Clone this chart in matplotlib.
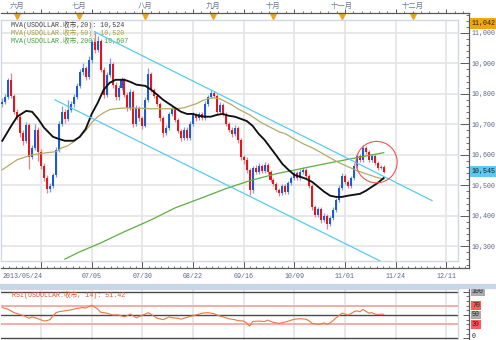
import numpy as np
import matplotlib
matplotlib.use("Agg")
import matplotlib.pyplot as plt
import matplotlib.transforms as mtransforms
from matplotlib.patches import Ellipse, Rectangle
from matplotlib.ticker import FixedLocator, MultipleLocator, FuncFormatter, NullFormatter

plt.rcParams['font.family'] = ['Liberation Mono', 'Noto Sans CJK SC']

# ---------------- data: USDOLLAR daily candles, 2013/05/24 onward ----------------
first_open = 10765
closes = [10774, 10790, 10846, 10793, 10741, 10725, 10672, 10646, 10698, 10593,
          10623, 10682, 10610, 10564, 10525, 10489, 10498, 10534, 10616, 10702,
          10741, 10718, 10748, 10767, 10790, 10826, 10872, 10885, 10856, 10911,
          10970, 10944, 10974, 10879, 10797, 10862, 10898, 10830, 10790, 10820,
          10846, 10797, 10754, 10807, 10702, 10754, 10721, 10695, 10780, 10866,
          10813, 10793, 10767, 10721, 10672, 10689, 10734, 10751, 10715, 10679,
          10656, 10682, 10656, 10702, 10731, 10721, 10734, 10721, 10767, 10790,
          10803, 10793, 10741, 10764, 10734, 10702, 10682, 10669, 10689, 10649,
          10593, 10584, 10551, 10485, 10557, 10544, 10564, 10548, 10567, 10544,
          10518, 10505, 10485, 10475, 10498, 10479, 10508, 10525, 10541, 10525,
          10544, 10551, 10531, 10498, 10430, 10403, 10423, 10387, 10400, 10374,
          10393, 10420, 10452, 10492, 10531, 10511, 10498, 10525, 10564, 10597,
          10584, 10623, 10610, 10584, 10597, 10574, 10557, 10561, 10545]
highs = [10785, 10798, 10852, 10869, 10800, 10750, 10731, 10680, 10708, 10705,
         10632, 10702, 10690, 10618, 10572, 10533, 10506, 10541, 10625, 10712,
         10760, 10750, 10780, 10775, 10798, 10835, 10880, 10900, 10892, 10925,
         10978, 11006, 10988, 10980, 10888, 10870, 10918, 10905, 10838, 10828,
         10856, 10852, 10805, 10815, 10812, 10762, 10760, 10728, 10790, 10885,
         10872, 10820, 10800, 10773, 10728, 10697, 10741, 10760, 10758, 10722,
         10686, 10690, 10690, 10710, 10740, 10738, 10742, 10740, 10775, 10797,
         10812, 10810, 10800, 10772, 10770, 10740, 10708, 10690, 10697, 10695,
         10655, 10600, 10592, 10558, 10563, 10565, 10572, 10570, 10575, 10572,
         10550, 10525, 10512, 10492, 10505, 10505, 10515, 10532, 10548, 10548,
         10552, 10560, 10557, 10538, 10505, 10437, 10430, 10430, 10408, 10406,
         10400, 10428, 10460, 10500, 10540, 10538, 10518, 10532, 10572, 10605,
         10604, 10633, 10628, 10616, 10604, 10602, 10580, 10567, 10566]
lows = [10758, 10768, 10784, 10786, 10733, 10715, 10660, 10633, 10640, 10552,
        10585, 10615, 10580, 10555, 10515, 10476, 10478, 10490, 10528, 10608,
        10695, 10705, 10712, 10740, 10758, 10782, 10820, 10862, 10845, 10850,
        10902, 10935, 10938, 10870, 10785, 10790, 10855, 10820, 10780, 10781,
        10812, 10790, 10745, 10748, 10690, 10695, 10712, 10685, 10690, 10772,
        10805, 10785, 10760, 10712, 10660, 10665, 10682, 10727, 10708, 10672,
        10645, 10650, 10648, 10650, 10695, 10712, 10715, 10713, 10715, 10760,
        10785, 10786, 10733, 10735, 10727, 10695, 10675, 10660, 10662, 10640,
        10583, 10570, 10540, 10468, 10475, 10536, 10538, 10540, 10542, 10537,
        10510, 10497, 10478, 10466, 10468, 10470, 10472, 10500, 10518, 10518,
        10519, 10538, 10524, 10490, 10420, 10395, 10396, 10378, 10380, 10357,
        10366, 10386, 10413, 10445, 10485, 10503, 10490, 10492, 10518, 10557,
        10576, 10578, 10602, 10576, 10578, 10567, 10550, 10552, 10540]

# moving averages (bar index, value)
ma20_idx = [0, 3, 5, 8, 10, 12, 14, 17, 19, 21, 24, 26, 28, 30, 32, 34, 36, 38, 41, 43,
            45, 48, 50, 52, 54, 56, 58, 60, 62, 64, 66, 68, 70, 72, 74, 76, 78, 80, 82, 84,
            86, 88, 90, 92, 94, 96, 98, 100, 102, 104, 106, 108, 110, 112, 114, 116, 118, 120,
            122, 124, 126, 128]
ma20_val = [10646, 10695, 10725, 10744, 10741, 10718, 10689, 10659, 10652, 10646,
            10646, 10659, 10685, 10734, 10770, 10813, 10836, 10846, 10846, 10839,
            10830, 10826, 10813, 10797, 10780, 10767, 10754, 10741, 10734, 10734,
            10728, 10725, 10725, 10731, 10734, 10728, 10725, 10718, 10711, 10695,
            10669, 10649, 10623, 10597, 10570, 10551, 10534, 10528, 10521, 10511,
            10495, 10479, 10466, 10462, 10462, 10466, 10469, 10472, 10482, 10495,
            10508, 10524]
ma50_idx = [0, 5, 10, 15, 18, 20, 22, 24, 26, 28, 30, 32, 34, 36, 38, 42, 50, 58, 61, 63,
            65, 67, 69, 71, 73, 75, 77, 79, 81, 83, 85, 87, 89, 91, 93, 95, 98, 101, 104, 107,
            110, 113, 116, 119, 122, 125, 128]
ma50_val = [10551, 10584, 10600, 10607, 10610, 10623, 10630, 10643, 10659, 10679,
            10705, 10725, 10738, 10748, 10751, 10754, 10751, 10751, 10754, 10761,
            10767, 10777, 10784, 10787, 10784, 10774, 10764, 10751, 10741, 10731,
            10718, 10705, 10695, 10685, 10675, 10669, 10652, 10636, 10623, 10607,
            10590, 10574, 10561, 10548, 10538, 10528, 10520]
ma200_idx = [21, 26, 33, 41, 50, 58, 67, 75, 83, 92, 100, 108, 117, 128]
ma200_val = [10258, 10282, 10311, 10348, 10387, 10426, 10459, 10489, 10515, 10538,
             10554, 10570, 10587, 10607]
ma_last = {20: '10,524', 50: '10,520', 200: '10,607'}

# RSI(14)
rsi_idx = [0, 2, 4, 6, 7, 9, 10, 12, 14, 15, 16, 17, 18, 19, 21, 23, 25, 27, 28, 29,
           30, 31, 32, 33, 35, 37, 39, 41, 43, 45, 46, 48, 49, 50, 52, 54, 56, 57, 59, 60,
           61, 63, 65, 67, 69, 71, 72, 74, 76, 78, 79, 81, 82, 83, 84, 86, 88, 89, 91, 93,
           95, 96, 98, 100, 102, 103, 104, 106, 107, 108, 109, 110, 111, 112, 113, 114, 115,
           116, 117, 118, 119, 120, 121, 122, 123, 124, 125, 126, 127, 128]
rsi_val = [66, 62, 55, 51, 49, 43, 46, 42, 37, 38, 40, 48, 55, 57, 59, 61, 64, 66, 65, 68,
           71, 67, 63, 56, 54, 50, 50, 46, 52, 44, 47, 52, 55, 51, 43, 40, 46, 44, 43, 41,
           43, 47, 50, 54, 55, 53, 50, 46, 42, 40, 38, 37, 33, 26, 36, 37, 36, 39, 34, 32,
           35, 37, 41, 42, 41, 37, 32, 30, 31, 33, 30, 33, 38, 44, 49, 54, 52,
           50, 53, 57, 59, 57, 62, 58, 54, 55, 52, 51, 52, 51.42]
rsi_levels = [100, 70, 50, 30, 0]

# trend channel drawn on the chart (bar index, price)
upper_channel = ([31, 144.2], [11003, 10450])
lower_channel = ([17.7, 130.1], [10780, 10236])
highlight = (125.6, 10576, 13.8, 136)  # centre bar, centre price, width (bars), height (price)

# axis annotations
grid_bars = [13, 30, 47, 64, 81, 98, 115, 132, 149]
grid_labels = ['', '07/05', '07/30', '08/22', '09/16', '10/09', '11/01', '11/24', '12/11']
start_label = '2013/05/24'
month_bars = [4.9, 25.7, 47.9, 70.7, 90.8, 114, 137.8]
month_labels = ['六月', '七月', '八月', '九月', '十月', '十一月', '十二月']
price_ticks = [10300, 10400, 10500, 10600, 10700, 10800, 10900, 11000]
price_top = 11042
last_price = 10545

# ---------------- figure geometry ----------------
W, H = 496, 340
fig = plt.figure(figsize=(W / 100, H / 100), dpi=100)
fig.patch.set_facecolor('white')

BAR0_PX, BAR_PX = 2.3, 2.98      # pixel of bar 0, pixels per bar
PX_PER_PRICE = 0.305             # pixels per price unit
TOP_PX = 20                      # pixel row of price_top
RSI0_PX, PX_PER_RSI = 338.3, 0.466

def box(x0, y0, x1, y1):
    return [x0 / W, 1 - y1 / H, (x1 - x0) / W, (y1 - y0) / H]

def fy(ypx):
    return 1 - ypx / H

def xlim_px(x0, x1):
    return ((x0 - BAR0_PX) / BAR_PX, (x1 - BAR0_PX) / BAR_PX)

def ylim_px(y0, y1):
    return (price_top - (y1 - TOP_PX) / PX_PER_PRICE, price_top + (TOP_PX - y0) / PX_PER_PRICE)

def rlim_px(y0, y1):
    return ((RSI0_PX - y1) / PX_PER_RSI, (RSI0_PX - y0) / PX_PER_RSI)

AXC = '#5a5a5a'
LBLC = '#5a6680'
GRID = '#e4e4e4'
FRAME = '#cdd6e0'
FS = 4.8

# ---------------- outer frame of the price panel (ticks + price scale) ----------------
axo = fig.add_axes(box(1, 12.5, 469, 268))
axo.set_xlim(*xlim_px(1, 469))
axo.set_ylim(*ylim_px(12.5, 268))
axo.patch.set_alpha(0)
axo.spines['left'].set_visible(False)
axo.spines['top'].set_visible(False)
for s in ('right', 'bottom'):
    axo.spines[s].set_color(AXC)
    axo.spines[s].set_linewidth(0.9)
axo.yaxis.tick_right()
axo.yaxis.set_major_locator(FixedLocator(price_ticks))
axo.yaxis.set_minor_locator(MultipleLocator(20))
axo.yaxis.set_major_formatter(FuncFormatter(lambda v, p: f"{int(v):,}"))
axo.tick_params(axis='y', which='major', direction='in', length=6.5, width=0.7,
                color=AXC, labelsize=FS, labelcolor=LBLC, pad=2)
axo.tick_params(axis='y', which='minor', direction='in', length=2.2, width=0.6, color=AXC)
axo.xaxis.set_major_locator(FixedLocator(grid_bars))
axo.xaxis.set_minor_locator(FixedLocator(np.arange(grid_bars[0] - 17, 160, 17 / 8)))
axo.xaxis.set_major_formatter(NullFormatter())
axo.tick_params(axis='x', which='major', direction='in', length=5, width=0.7, color=AXC)
axo.tick_params(axis='x', which='minor', direction='in', length=1.8, width=0.6, color=AXC)

axt = axo.twiny()
axt.set_xlim(*xlim_px(1, 469))
axt.patch.set_alpha(0)
for s in ('left', 'right', 'bottom'):
    axt.spines[s].set_visible(False)
axt.spines['top'].set_color(AXC)
axt.spines['top'].set_linewidth(0.9)
axt.xaxis.set_major_locator(FixedLocator(grid_bars))
axt.xaxis.set_minor_locator(FixedLocator(np.arange(grid_bars[0] - 17, 160, 17 / 6)))
axt.xaxis.set_major_formatter(NullFormatter())
axt.tick_params(axis='x', which='major', direction='out', length=3, width=0.7, color=AXC)
axt.tick_params(axis='x', which='minor', direction='out', length=1.6, width=0.6, color=AXC)

tx_fig = mtransforms.blended_transform_factory(axo.transData, fig.transFigure)
for b, lab in zip(grid_bars, grid_labels):
    if lab:
        axo.text(b, fy(277), lab, transform=tx_fig, ha='center', va='center',
                 fontsize=FS, color=LBLC, clip_on=False)
axo.text(0, fy(277), start_label, transform=tx_fig, ha='left', va='center',
         fontsize=FS, color=LBLC, clip_on=False)
for b, lab in zip(month_bars, month_labels):
    axo.text(b, fy(5.5), lab, transform=tx_fig, ha='center', va='center',
             fontsize=5.3, color='#6b7b9b', family=['Noto Sans CJK SC'], clip_on=False)
axo.plot(month_bars, [fy(15.8)] * len(month_bars), transform=tx_fig, ls='none',
         marker='v', ms=5, color='#f0a21a', mec='#f0a21a', clip_on=False)

# ---------------- price panel ----------------
ax = fig.add_axes(box(1, 20, 458, 261))
ax.set_xlim(*xlim_px(1, 458))
ax.set_ylim(*ylim_px(20, 261))
ax.set_facecolor('white')
for s in ax.spines.values():
    s.set_color(FRAME)
    s.set_linewidth(0.9)
ax.set_xticks([])
ax.set_yticks([])
for p in price_ticks:
    ax.axhline(p, color=GRID, lw=1.2, zorder=0)
for b in grid_bars:
    ax.axvline(b, color=GRID, lw=1.2, zorder=0)

o = np.array([first_open] + closes[:-1], dtype=float)
c = np.array(closes, dtype=float)
h = np.array(highs, dtype=float)
l = np.array(lows, dtype=float)
idx = np.arange(len(c))
up = c >= o
body_col = np.where(up, '#1b5bd3', '#e3161d')
wick_col = np.where(up, '#7b9de0', '#f08080')
ax.vlines(idx, l, h, colors=wick_col, lw=0.9, zorder=2)
body_lo = np.minimum(o, c)
body_h = np.maximum(np.abs(c - o), 3)
ax.bar(idx, body_h, bottom=body_lo, width=0.68, color=body_col, linewidth=0, zorder=3)

ax.plot(ma200_idx, ma200_val, color='#5cae42', lw=0.9, zorder=4)
ax.plot(ma50_idx, ma50_val, color='#b3ab68', lw=0.9, zorder=4)
ax.plot(ma20_idx, ma20_val, color='#111111', lw=1.35, zorder=5)
ax.plot(*upper_channel, color='#55cdf0', lw=0.9, zorder=5)
ax.plot(*lower_channel, color='#55cdf0', lw=0.9, zorder=5)
cx, cy, cw, ch = highlight
ax.add_patch(Ellipse((cx, cy), cw, ch, fill=False, ec='#f05555', lw=0.8, zorder=6))

legend_rows = [("MVA(USDOLLAR.收市,20): " + ma_last[20], '#404040', 25),
               ("MVA(USDOLLAR.收市,50): " + ma_last[50], '#a39c3c', 33),
               ("MVA(USDOLLAR.收市,200): " + ma_last[200], '#3f9e3f', 41)]
for txt, col, ypx in legend_rows:
    ax.text(11 / W, fy(ypx), txt, transform=fig.transFigure, fontsize=FS, color=col,
            ha='left', va='center', zorder=1)

tp = mtransforms.blended_transform_factory(fig.transFigure, ax.transData)
ax.text(471.5 / W, price_top, f"{price_top:,}", transform=tp, fontsize=FS, color='#222222',
        ha='left', va='top', clip_on=False, zorder=10,
        bbox=dict(boxstyle='square,pad=0.25', fc='#f5a40c', ec='none'))
ax.text(471.5 / W, last_price, f"{last_price:,}", transform=tp, fontsize=FS, color='#1a1a1a',
        ha='left', va='center', clip_on=False, zorder=10,
        bbox=dict(boxstyle='square,pad=0.25', fc='#5ec8f2', ec='none'))

# separator between panels
fig.patches.append(Rectangle((0, fy(288)), 1, 4 / H, transform=fig.transFigure,
                             color='#c8d5e5', zorder=0))

# ---------------- RSI panel ----------------
rso = fig.add_axes(box(1, 289, 469, 340))
rso.set_xlim(*xlim_px(1, 469))
rso.set_ylim(*rlim_px(289, 340))
rso.patch.set_alpha(0)
for s in ('left', 'top', 'bottom'):
    rso.spines[s].set_visible(False)
rso.spines['right'].set_color(AXC)
rso.spines['right'].set_linewidth(0.9)
rso.set_xticks([])
rso.yaxis.tick_right()
rso.yaxis.set_major_locator(FixedLocator([0, 50, 100]))
rso.yaxis.set_minor_locator(MultipleLocator(10))
rso.yaxis.set_major_formatter(NullFormatter())
rso.tick_params(axis='y', which='major', direction='in', length=4, width=0.7, color=AXC)
rso.tick_params(axis='y', which='minor', direction='in', length=2, width=0.6, color=AXC)

rsi = fig.add_axes(box(1, 289, 458, 340))
rsi.set_xlim(*xlim_px(1, 458))
rsi.set_ylim(*rlim_px(289, 340))
rsi.set_facecolor('white')
for s in ('left', 'bottom'):
    rsi.spines[s].set_visible(False)
for s in ('top', 'right'):
    rsi.spines[s].set_color(FRAME)
    rsi.spines[s].set_linewidth(0.9)
rsi.set_xticks([])
rsi.set_yticks([])
for b in grid_bars:
    rsi.axvline(b, color=GRID, lw=1.2, zorder=0)
for lv in rsi_levels:
    if lv in (70, 30):
        rsi.axhline(lv, color='#f6a5a5', lw=1.3, zorder=1)
    else:
        rsi.axhline(lv, color='#4a4a4a', lw=1.0, zorder=1)
rsi.plot(rsi_idx, rsi_val, color='#ef7440', lw=0.8, zorder=3)
rsi.text(12 / W, fy(295), f"RSI(USDOLLAR.收市, 14): {rsi_val[-1]:.2f}",
         transform=fig.transFigure, fontsize=FS, color='#e0572f', ha='left', va='center')

tr = mtransforms.blended_transform_factory(fig.transFigure, rsi.transData)
level_box = {100: '#aaaaaa', 70: '#ff5a5a', 50: '#aaaaaa', 30: '#ff5a5a', 0: None}
for lv in rsi_levels:
    kw = dict(transform=tr, fontsize=FS, color='#222222', ha='left', va='center', clip_on=False)
    if level_box[lv]:
        kw['bbox'] = dict(boxstyle='square,pad=0.12', fc=level_box[lv], ec='none')
    ypos = lv
    if lv == 0:
        kw['va'] = 'bottom'
        ypos = -2.8
    rsi.text(472 / W, ypos, str(lv), **kw)

fig.savefig('out.png', dpi=100)
